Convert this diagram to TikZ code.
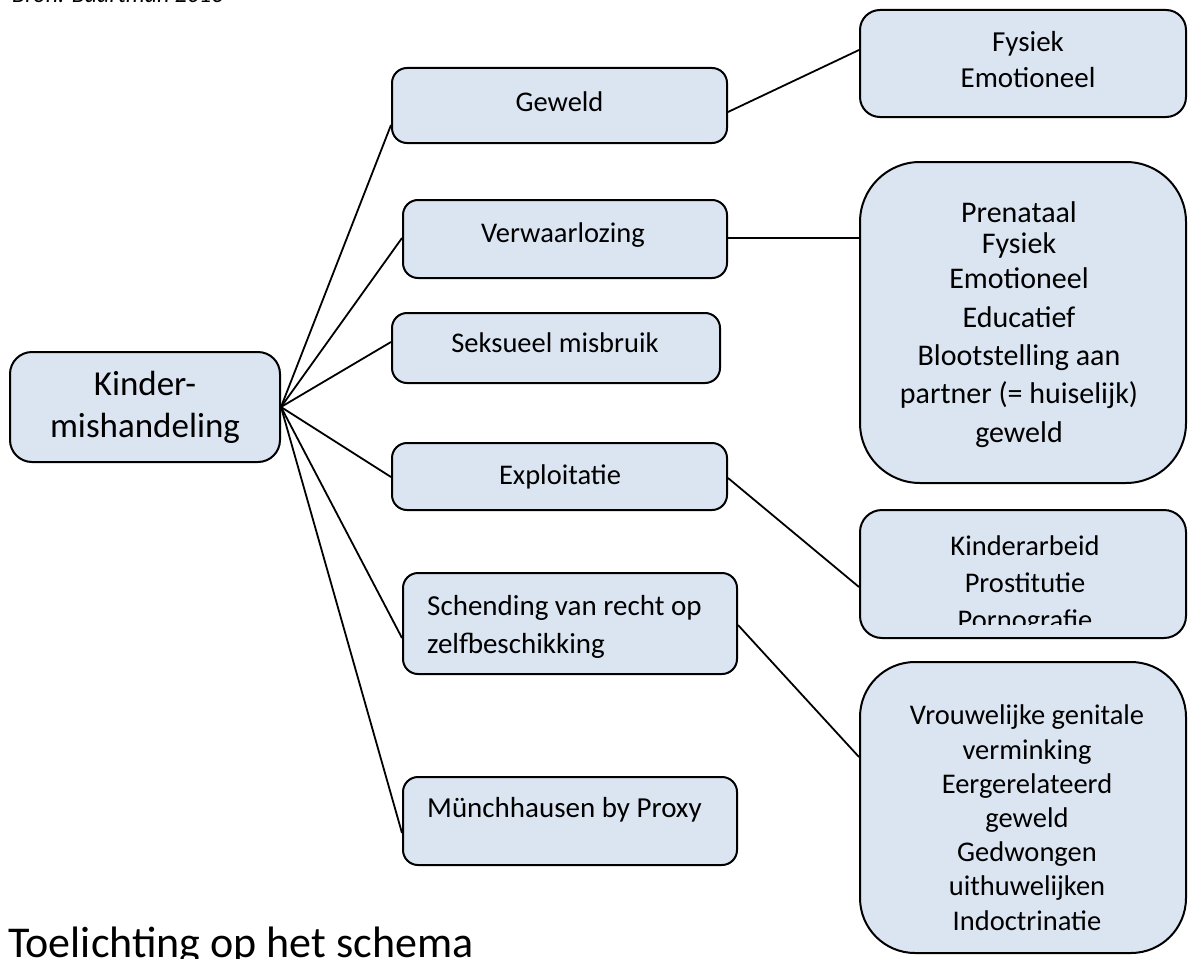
\documentclass[tikz,border=0pt]{standalone}
\usepackage{fontspec}
\setmainfont{Carlito}
\usetikzlibrary{calc}
\definecolor{boxfill}{HTML}{DBE5F1}
\tikzset{
  box/.style={draw=black, line width=2pt, fill=boxfill, inner sep=0pt, rounded corners=#1},
  box/.default=15pt,
  conn/.style={draw=black, line width=1.8pt},
  txt/.style={inner sep=0pt, font=\fontsize{28.5}{30}\selectfont},
}
\begin{document}
\begin{tikzpicture}[x=1pt,y=-1pt]
\useasboundingbox (0,0) rectangle (1188,958);
\begin{scope}
\clip (0,0) rectangle (1188,958);
% boxes
\node[box=22pt, minimum width=270pt, minimum height=110pt] (kind) at (145,407) {};
\node[box, minimum width=335pt, minimum height=75pt] (gew) at (559.5,105.5) {};
\node[box, minimum width=324pt, minimum height=78pt] (ver) at (565,239) {};
\node[box, minimum width=328pt, minimum height=70pt] (sek) at (556,348) {};
\node[box, minimum width=335pt, minimum height=67pt] (exp) at (559.5,476.5) {};
\node[box, minimum width=334pt, minimum height=101pt] (sch) at (570,623.5) {};
\node[box, minimum width=334pt, minimum height=88pt] (mbp) at (570,821) {};
\node[box=20pt, minimum width=326pt, minimum height=107pt] (fys) at (1023,63.5) {};
\node[box=60pt, minimum width=326pt, minimum height=321pt] (prn) at (1023,322.5) {};
\node[box=22pt, minimum width=326pt, minimum height=128pt] (kar) at (1023,574) {};
\node[box=55pt, minimum width=326pt, minimum height=291pt] (vrw) at (1023,807.5) {};
% connectors
\draw[conn] (kind.east) -- ($(gew.west)+(0,19.5)$);
\draw[conn] (kind.east) -- ($(ver.west)+(0,-1)$);
\draw[conn] (kind.east) -- ($(sek.west)+(0,-6)$);
\draw[conn] (kind.east) -- ($(exp.west)+(0,0.5)$);
\draw[conn] (kind.east) -- ($(sch.west)+(0,14.5)$);
\draw[conn] (kind.east) -- ($(mbp.west)+(0,12)$);
\draw[conn] ($(gew.east)+(0,6.5)$) -- ($(fys.west)+(0,-13.5)$);
\draw[conn] ($(ver.east)+(0,-1)$) -- ($(prn.west)+(0,-84.5)$);
\draw[conn] ($(exp.east)+(0,1.5)$) -- ($(kar.west)+(0,13)$);
\draw[conn] ($(sch.east)+(0,1.5)$) -- ($(vrw.west)+(0,-50.5)$);
% texts (base anchor = baseline of the last line)
\node[txt, font=\fontsize{35}{42}\selectfont, align=center, anchor=base] (tkind) at (145,437) {Kinder-\\mishandeling};
\node[txt, anchor=base] (tgew) at (559.5,111) {Geweld};
\node[txt, anchor=base] (tver) at (563,242) {Verwaarlozing};
\node[txt, anchor=base] (tsek) at (555,352) {Seksueel misbruik};
\node[txt, anchor=base] (texp) at (560,484) {Exploitatie};
\node[txt, font=\fontsize{29}{38}\selectfont, align=left, anchor=base west] (tsch) at (427,653) {Schending van recht op\\zelfbeschikking};
\node[txt, font=\fontsize{29}{30}\selectfont, anchor=base west] (tmbp) at (427,817) {Münchhausen by Proxy};
\node[txt, font=\fontsize{29}{36}\selectfont, align=center, anchor=base] (tfys) at (1028,88) {Fysiek\\Emotioneel};
\node[txt, font=\fontsize{30}{31}\selectfont, align=center, anchor=base] (tprn) at (1019,442) {Prenataal\\Fysiek\\[4pt]Emotioneel\\[8pt]Educatief\\[7pt]Blootstelling aan\\[7pt]partner (= huiselijk)\\[8pt]geweld};
\begin{scope}
\clip (860,505) rectangle (1188,624);
\node[txt, font=\fontsize{28.5}{37}\selectfont, align=center, anchor=base] (tkar) at (1025,629) {Kinderarbeid\\Prostitutie\\Pornografie};
\end{scope}
\node[txt, font=\fontsize{28.5}{34.2}\selectfont, align=center, anchor=base] (tvrw) at (1027,930) {Vrouwelijke genitale\\verminking\\Eergerelateerd\\geweld\\Gedwongen\\uithuwelijken\\Indoctrinatie};
\node[font=\itshape\fontsize{24}{28}\selectfont, anchor=base west, inner sep=0pt] (bron) at (12,2.5) {Bron: Baartman 2016};
\node[font=\fontsize{44}{50}\selectfont, anchor=base west, inner sep=0pt] (head) at (8,957) {Toelichting op het schema};
\end{scope}
\end{tikzpicture}
\end{document}
